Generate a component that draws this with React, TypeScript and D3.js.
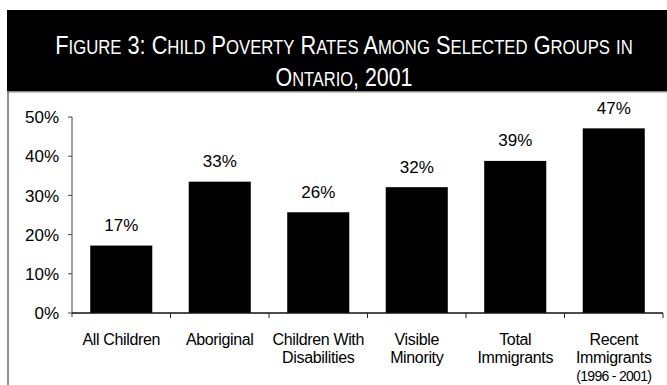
import React, { useLayoutEffect, useRef, useState } from "react";
import * as d3 from "d3";

const categories: string[][] = [
  ["All Children"],
  ["Aboriginal"],
  ["Children With", "Disabilities"],
  ["Visible", "Minority"],
  ["Total", "Immigrants"],
  ["Recent", "Immigrants", "(1996 - 2001)"],
];
const values: number[] = [17.2, 33.5, 25.7, 32.1, 38.8, 47.1];
const valueLabels: string[] = ["17%", "33%", "26%", "32%", "39%", "47%"];
const yTicks: number[] = [0, 10, 20, 30, 40, 50];
const titleLines: string[] = [
  "Figure 3: Child Poverty Rates Among Selected Groups in",
  "Ontario, 2001",
];

const W = 667;
const H = 385;
const plotLeft = 72;
const plotRight = 663;
const plotTop = 117;
const plotBottom = 313;

function smallCaps(s: string, big: number, small: number) {
  const runs: { t: string; low: boolean }[] = [];
  for (const ch of s) {
    const low = ch !== ch.toUpperCase();
    const last = runs[runs.length - 1];
    if (last && last.low === low) last.t += ch;
    else runs.push({ t: ch, low });
  }
  return runs.map((r, i) => (
    <tspan key={i} fontSize={r.low ? small : big}>
      {r.low ? r.t.toUpperCase() : r.t}
    </tspan>
  ));
}

export default function App() {
  const idx = categories.map((_, i) => String(i));
  const x = d3
    .scaleBand<string>()
    .domain(idx)
    .range([plotLeft, plotRight])
    .paddingInner(0.37)
    .paddingOuter(0.185);
  const y = d3.scaleLinear().domain([0, 50]).range([plotBottom, plotTop]);
  const step = x.step();
  const font = "'Liberation Sans', Arial, sans-serif";
  const titleFont = "'Liberation Sans Narrow', 'Arial Narrow', sans-serif";

  const t1 = useRef<SVGTextElement>(null);
  const t2 = useRef<SVGTextElement>(null);
  const [scales, setScales] = useState<[number, number]>([1, 1]);
  useLayoutEffect(() => {
    const w1 = t1.current ? t1.current.getComputedTextLength() : 578;
    const w2 = t2.current ? t2.current.getComputedTextLength() : 137;
    setScales([578 / w1, 137 / w2]);
  }, []);

  return (
    <svg
      width={W}
      height={H}
      style={{ position: "absolute", left: 0, top: 0, background: "#fff" }}
    >
      {/* header */}
      <rect x={7} y={10} width={W - 7} height={81} fill="#000" />
      <rect x={7} y={91} width={W - 7} height={1.5} fill="#8a8a8a" />
      <line x1={8} x2={8} y1={92} y2={H} stroke="#222" strokeWidth={1} />
      <g transform={`translate(344,54) scale(${scales[0]},1)`}>
        <text ref={t1} x={0} y={0} textAnchor="middle" fill="#fff" fontFamily={titleFont}>
          {smallCaps(titleLines[0], 26, 20)}
        </text>
      </g>
      <g transform={`translate(344,85.5) scale(${scales[1]},1)`}>
        <text ref={t2} x={0} y={0} textAnchor="middle" fill="#fff" fontFamily={titleFont}>
          {smallCaps(titleLines[1], 26, 20)}
        </text>
      </g>

      {/* bars */}
      {values.map((v, i) => (
        <rect
          key={"b" + i}
          x={x(String(i))}
          y={y(v)}
          width={x.bandwidth()}
          height={plotBottom - y(v)}
          fill="#000"
        />
      ))}
      {values.map((v, i) => (
        <text
          key={"v" + i}
          x={(x(String(i)) as number) + x.bandwidth() / 2}
          y={y(v) - 14.5}
          textAnchor="middle"
          fontFamily={font}
          fontSize={17}
          fill="#000"
        >
          {valueLabels[i]}
        </text>
      ))}

      {/* y axis */}
      <line
        x1={plotLeft}
        x2={plotLeft}
        y1={plotTop}
        y2={plotBottom + 4}
        stroke="#444"
        strokeWidth={1}
      />
      {yTicks.map((t) => (
        <g key={"t" + t}>
          <line
            x1={plotLeft - 4}
            x2={plotLeft}
            y1={y(t)}
            y2={y(t)}
            stroke="#444"
            strokeWidth={1}
          />
          <text
            x={59}
            y={y(t)}
            dy="0.36em"
            textAnchor="end"
            fontFamily={font}
            fontSize={17}
            fill="#000"
          >
            {t + "%"}
          </text>
        </g>
      ))}

      {/* x axis */}
      <line
        x1={plotLeft}
        x2={plotRight}
        y1={plotBottom}
        y2={plotBottom}
        stroke="#111"
        strokeWidth={1.5}
      />
      {idx.map((d, i) => (
        <line
          key={"xt" + i}
          x1={plotLeft + step * (i + 1)}
          x2={plotLeft + step * (i + 1)}
          y1={plotBottom}
          y2={plotBottom + 5}
          stroke="#222"
          strokeWidth={1}
        />
      ))}
      {categories.map((lines, i) => (
        <text key={"c" + i} textAnchor="middle" fontFamily={font} fill="#000">
          {lines.map((ln, j) => (
            <tspan
              key={j}
              x={(x(String(i)) as number) + x.bandwidth() / 2}
              y={345 + j * 18}
              fontSize={j === 2 ? 14 : 16}
              letterSpacing={j === 2 ? -0.7 : -0.35}
            >
              {ln}
            </tspan>
          ))}
        </text>
      ))}
    </svg>
  );
}
